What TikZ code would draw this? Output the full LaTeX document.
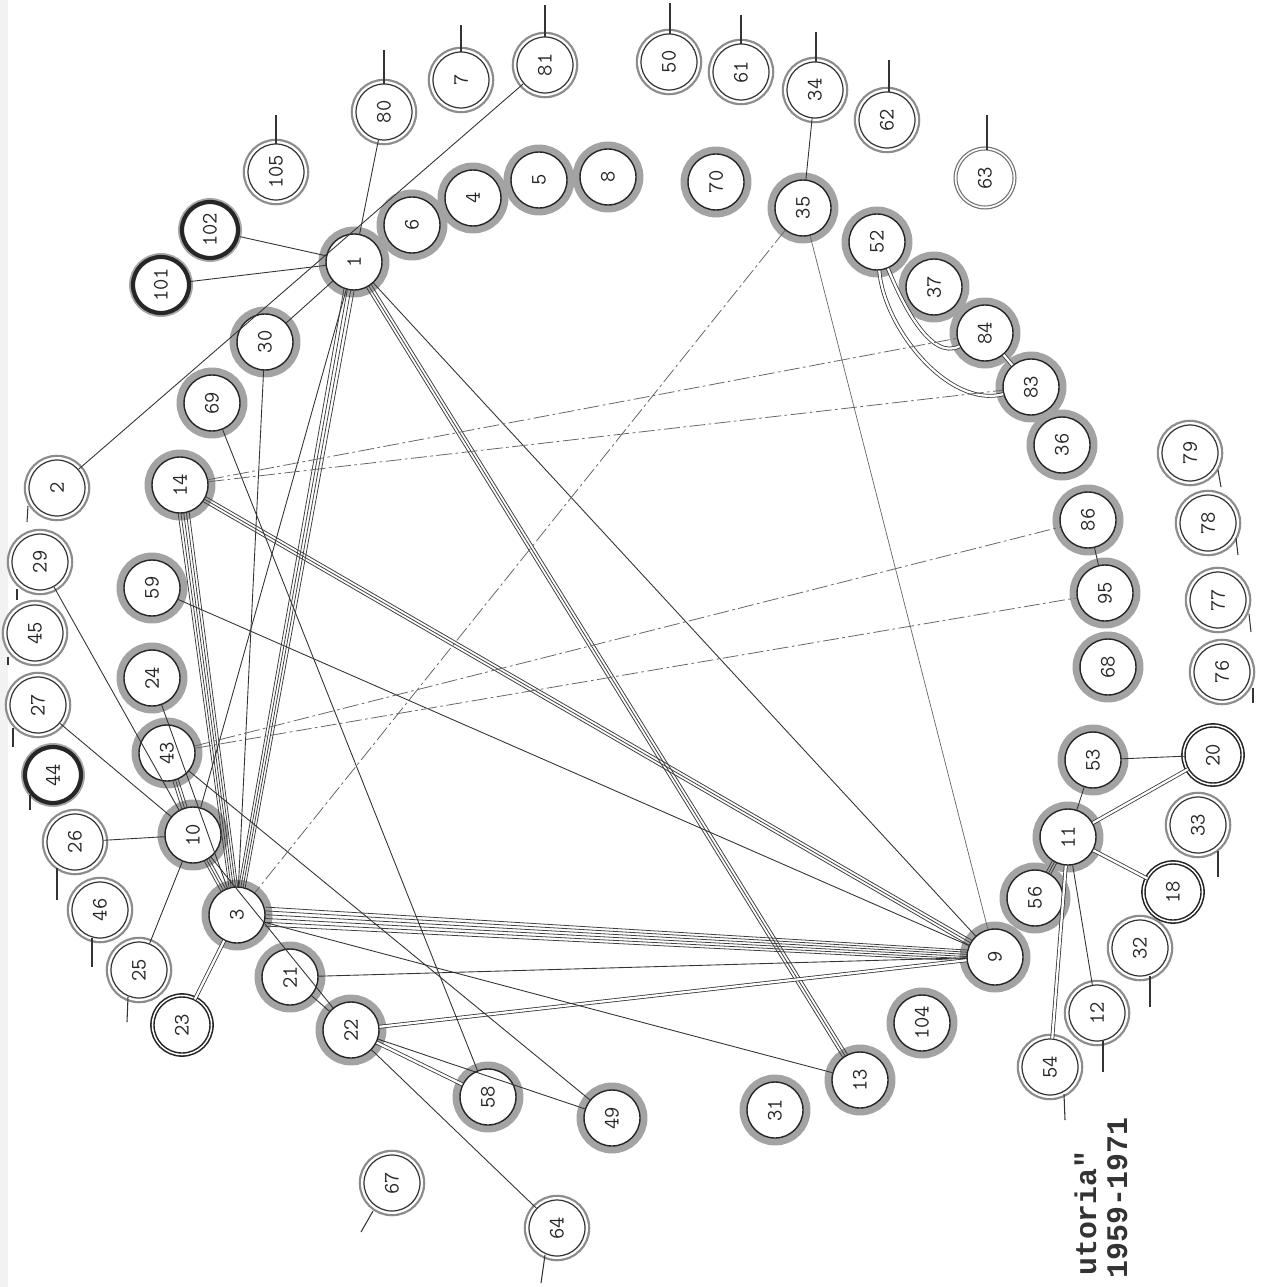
\documentclass[tikz,border=0pt]{standalone}
\usepackage{fontspec}
\newfontfamily\labf{Liberation Mono}
\usetikzlibrary{calc}
\tikzset{
 nd/.style={circle, minimum size=1.12cm, inner sep=0pt, fill=white, rotate=90, text=black!85, font=\ttfamily\fontsize{12.5}{12.5}\selectfont},
 core/.style={nd, draw=black!85, line width=0.8pt, preaction={draw=black!36, line width=8.5pt}},
 peri/.style={nd, draw=black!80, line width=0.7pt, preaction={draw=black!45, line width=6pt}, preaction={draw=white, line width=3.4pt}},
 thk/.style={nd, draw=black!85, line width=2.4pt, preaction={draw=black!35, line width=4.5pt}},
 dbl/.style={nd, draw=black!85, line width=0.8pt, preaction={draw=black!85, line width=4.4pt}, preaction={draw=white, line width=2.6pt}},
 faint/.style={nd, draw=black!55, line width=0.6pt, preaction={draw=black!55, line width=4pt}, preaction={draw=white, line width=2.6pt}},
 con/.style={draw=black!80, line width=0.5pt},
 dcon/.style={draw=black!80, double=white, double distance=1.3pt, line width=0.45pt},
 dd/.style={draw=black!60, line width=0.45pt, dash pattern=on 9pt off 2pt on 1.5pt off 2pt},
 bl/.style={draw=black!75, line width=0.45pt, shorten <=16pt, shorten >=16pt},
 stub/.style={draw=black!80, line width=0.6pt},
 captext/.style={rotate=90, anchor=base east, inner sep=0pt, text=black!80, font=\labf\bfseries\fontsize{17}{17}\selectfont},
}
\newcommand\bund[5]{\foreach \o in {#3}{\pgfmathsetmacro\oa{\o*#4}\pgfmathsetmacro\ob{\o*#5}\draw[bl] ($(#1)!\oa pt!90:(#2)$) -- ($(#2)!\ob pt!-90:(#1)$);}}
\begin{document}
\begin{tikzpicture}[x=0.02cm,y=-0.02cm]
\fill[white] (0,0) rectangle (1264,1287);
\useasboundingbox (0,0) rectangle (1264,1287);
\fill[black!5] (0,0) rectangle (8,1287);
% core nodes
\foreach \n/\x/\y in {1/354/262, 6/412/225, 4/473/198, 5/539/180, 8/608/177, 30/265/342, 69/212/403,
  14/180/485, 59/152/588, 24/152/678, 43/167/753, 10/193/835, 3/237/915, 21/290/977, 22/351/1030,
  58/488/1097, 49/612/1118, 31/775/1110, 13/860/1080, 104/922/1023, 9/995/957, 56/1035/898,
  11/1068/837, 53/1093/760, 70/716/182, 35/803/208, 52/877/242, 37/934/287, 84/985/333,
  83/1031/387, 36/1062/445, 86/1088/520, 95/1105/593, 68/1108/667}
  {\node[core] (\n) at (\x,\y) {\n};}
% peripheral nodes
\foreach \n/\x/\y in {2/57/488, 29/40/562, 45/35/633, 27/38/705, 26/75/842, 46/100/910, 25/139/970,
  105/276/172, 80/384/112, 7/461/80, 81/545/65, 50/669/62, 61/741/72, 34/815/90, 62/887/120,
  79/1190/453, 78/1208/523, 77/1218/600, 76/1222/672, 33/1198/825, 32/1140/948, 12/1097/1013,
  54/1050/1067, 64/557/1228, 67/392/1183}
  {\node[peri] (\n) at (\x,\y) {\n};}
\foreach \n/\x/\y in {101/161/285, 102/210/230, 44/53/775}
  {\node[thk] (\n) at (\x,\y) {\n};}
\foreach \n/\x/\y in {23/182/1025, 18/1173/892, 20/1213/755}
  {\node[dbl] (\n) at (\x,\y) {\n};}
\node[faint] (63) at (985,178) {63};
% bundles
\bund{1}{3}{-1.5,-0.5,0.5,1.5}{2}{1.2}
\bund{1}{13}{-1,0,1}{1.6}{1.6}
\bund{14}{3}{-2,-1,0,1,2}{1.6}{1.2}
\bund{14}{9}{-1,0,1}{1.6}{1.6}
\bund{3}{9}{-2.5,-1.5,-0.5,0.5,1.5,2.5}{2.2}{1.2}
\bund{10}{3}{-1,0,1}{1.5}{1.5}
\bund{43}{10}{-1,0,1}{1.6}{1.6}
\bund{11}{56}{-1,0,1}{1.4}{1.4}
% double lines
\foreach \a/\b in {23/3, 22/9, 22/58, 11/20, 11/18, 11/54, 84/83}
  {\draw[dcon] (\a) -- (\b);}
\draw[dcon] (52) to[out=-95,in=180] (84);
\draw[dcon] (52) to[out=-105,in=175] (83);
% single lines
\foreach \a/\b in {1/102, 1/101, 1/80, 2/81, 1/30, 1/10, 1/9, 30/3, 69/58, 59/9, 24/3, 29/10, 27/10,
  26/10, 25/10, 43/49, 10/22, 21/22, 21/9, 22/49, 22/64, 34/35, 86/95, 11/53, 53/20, 11/12, 3/13}
  {\draw[con] (\a) -- (\b);}
\draw[con, draw=black!60, line width=0.4pt] (35) -- (9);
% dash-dot lines
\foreach \a/\b in {14/84, 14/83, 43/86, 43/95, 35/3}
  {\draw[dd] (\a) -- (\b);}
% stubs
\foreach \i/\xa/\ya/\xb/\yb in {2/28/506/27/522, 29/17/589/17/600, 45/8/657/8/665, 27/13/728/13/747,
  44/30/795/30/810, 26/57/868/57/900, 46/92/938/92/967, 25/128/997/127/1022, 67/373/1211/361/1232,
  64/545/1255/541/1283, 54/1064/1094/1065/1120, 12/1103/1041/1103/1072, 32/1150/976/1150/1007,
  33/1218/851/1218/877, 76/1253/688/1253/703, 77/1249/614/1251/632, 78/1236/538/1238/555,
  79/1218/470/1221/487, 105/276/144/276/115, 80/384/84/384/50, 7/461/52/461/25, 81/545/37/545/5,
  50/670/34/670/3, 61/741/44/741/15, 34/816/62/816/32, 62/889/92/889/60, 63/987/150/987/115}
  {\coordinate (s\i a) at (\xa,\ya); \coordinate (s\i b) at (\xb,\yb); \draw[stub] (s\i a) -- (s\i b);}
% caption
\node[captext] (t1) at (1096,1150) {utoria"};
\node[captext] (t2) at (1127,1117) {1959-1971};
\end{tikzpicture}
\end{document}
